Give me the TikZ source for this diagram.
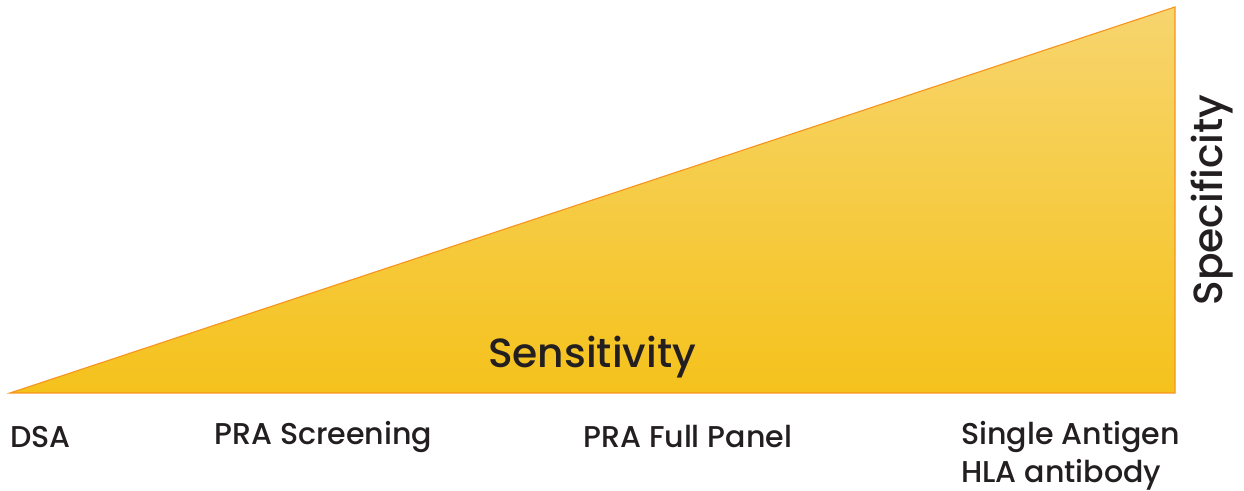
\documentclass[tikz,border=0pt]{standalone}
\usepackage{fontspec}
\setmainfont{Poppins}[UprightFont=* Medium]
\definecolor{wedgetop}{HTML}{F7D56E}
\definecolor{wedgebot}{HTML}{F5C21C}
\definecolor{wedgeline}{HTML}{F7941D}
\definecolor{labtext}{HTML}{231F20}
\tikzset{lab/.style={text=labtext,font=\fontsize{21.4}{27}\selectfont,inner sep=0pt}}
\begin{document}
\begin{tikzpicture}[x=0.025cm,y=0.025cm]
\pgfmathsetmacro{\xl}{10}
\pgfmathsetmacro{\xr}{1175}
\pgfmathsetmacro{\yb}{98}
\pgfmathsetmacro{\yt}{484}
\useasboundingbox (0,0) rectangle (1244,491);
\coordinate (dsa) at (\xl,\yb);
\coordinate (base) at (\xr,\yb);
\coordinate (peak) at (\xr,\yt);
\draw[wedgeline,line width=0.8pt,top color=wedgetop,bottom color=wedgebot](dsa)--(base)--(peak)--cycle;
%labels
\node[lab,anchor=west](tDSA) at (10,54){DSA};
\node[lab,anchor=west](tScr) at (214,54){PRA Screening};
\node[lab,anchor=west](tFull) at (583,54){PRA Full Panel};
\node[lab,anchor=west,align=left](tSingle) at (961,35){Single Antigen\\HLA antibody};
\node[lab,font=\fontsize{29}{34}\selectfont](tSens) at (592,134){Sensitivity};
\node[lab,font=\fontsize{29}{34}\selectfont,rotate=90](tSpec) at (1212,291){Specificity};
\end{tikzpicture}
\end{document}
